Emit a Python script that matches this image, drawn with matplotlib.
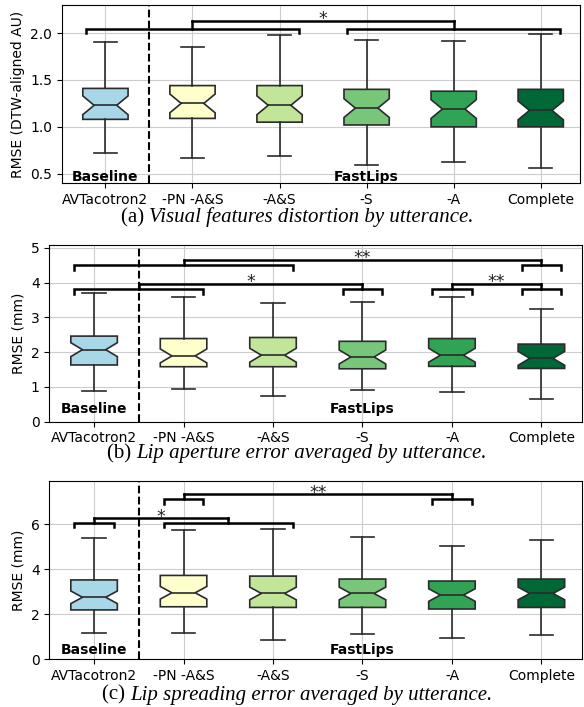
import matplotlib
matplotlib.use("Agg")
import matplotlib.pyplot as plt

# ---------------- data ----------------
categories = ["AVTacotron2", "-PN -A&S", "-A&S", "-S", "-A", "Complete"]
colors = ["#a8d8e8", "#ffffcc", "#c2e699", "#78c679", "#31a354", "#006837"]

# (a) visual features distortion: whislo, q1, med, q3, whishi
a_low = [0.72, 0.67, 0.69, 0.59, 0.62, 0.56]
a_q1 = [1.08, 1.09, 1.05, 1.02, 1.00, 1.00]
a_med = [1.23, 1.25, 1.23, 1.20, 1.19, 1.175]
a_q3 = [1.41, 1.44, 1.44, 1.40, 1.38, 1.40]
a_high = [1.91, 1.85, 1.98, 1.93, 1.92, 1.99]
a_notch = 0.10

# (b) lip aperture error
b_low = [0.87, 0.94, 0.74, 0.90, 0.84, 0.64]
b_q1 = [1.63, 1.58, 1.58, 1.52, 1.59, 1.53]
b_med = [2.07, 1.89, 1.91, 1.86, 1.91, 1.82]
b_q3 = [2.46, 2.39, 2.42, 2.31, 2.39, 2.23]
b_high = [3.70, 3.57, 3.41, 3.43, 3.57, 3.25]
b_notch = 0.20

# (c) lip spreading error
c_low = [1.15, 1.15, 0.84, 1.11, 0.93, 1.06]
c_q1 = [2.19, 2.33, 2.30, 2.30, 2.23, 2.30]
c_med = [2.75, 2.95, 2.92, 2.92, 2.85, 2.92]
c_q3 = [3.52, 3.72, 3.69, 3.56, 3.47, 3.56]
c_high = [5.36, 5.72, 5.76, 5.41, 5.01, 5.27]
c_notch = 0.28

# significance comparisons: (group1, group2, label, bracket height, line height)
a_sig = [([0, 1, 2], [3, 4, 5], "*", 2.04, 2.13)]
b_sig = [([0, 1, 2], [5], "**", 4.51, 4.66),
         ([0, 1], [3], "*", 3.80, 3.97),
         ([4], [5], "**", 3.80, 3.97)]
c_sig = [([0], [1, 2], "*", 6.06, 6.25),
         ([1], [4], "**", 7.10, 7.33)]

captions = [("(a) ", "Visual features distortion by utterance."),
            ("(b) ", "Lip aperture error averaged by utterance."),
            ("(c) ", "Lip spreading error averaged by utterance.")]

# ---------------- figure ----------------
fig = plt.figure(figsize=(5.84, 7.07), dpi=100)
ax_rects = [[0.106, 0.741, 0.887, 0.252],
            [0.0845, 0.4036, 0.9115, 0.2494],
            [0.0845, 0.0675, 0.9115, 0.2525]]
ylims = [(0.40, 2.30), (0, 5.07), (0, 7.92)]
yticks = [[0.5, 1.0, 1.5, 2.0], [0, 1, 2, 3, 4, 5], [0, 2, 4, 6]]
ylabels = ["RMSE (DTW-aligned AU)", "RMSE (mm)", "RMSE (mm)"]
panels = [(a_low, a_q1, a_med, a_q3, a_high, a_notch, a_sig),
          (b_low, b_q1, b_med, b_q3, b_high, b_notch, b_sig),
          (c_low, c_q1, c_med, c_q3, c_high, c_notch, c_sig)]
label_y = [0.46, 0.35, 0.42]
tickdepth = [0.035, 0.14, 0.20]
cap_y = [0.686, 0.352, 0.010]

edge = "#2b2b2b"
for k, (rect, pan) in enumerate(zip(ax_rects, panels)):
    lo, q1, med, q3, hi, notch, sig = pan
    ax = fig.add_axes(rect)
    stats = []
    for i in range(len(categories)):
        stats.append(dict(whislo=lo[i], q1=q1[i], med=med[i], q3=q3[i],
                          whishi=hi[i], cilo=med[i] - notch, cihi=med[i] + notch,
                          fliers=[], label=categories[i]))
    bp = ax.bxp(stats, positions=range(len(categories)), widths=0.52,
                shownotches=True, patch_artist=True, showfliers=False,
                boxprops=dict(edgecolor=edge, linewidth=1.2),
                whiskerprops=dict(color=edge, linewidth=1.2),
                capprops=dict(color=edge, linewidth=1.2),
                medianprops=dict(color=edge, linewidth=1.2))
    for patch, col in zip(bp["boxes"], colors):
        patch.set_facecolor(col)
    ax.set_xlim(-0.5, 5.45)
    ax.set_ylim(*ylims[k])
    ax.set_yticks(yticks[k])
    ax.set_xticks(range(len(categories)))
    ax.set_xticklabels(categories, fontsize=10)
    ax.tick_params(axis="y", labelsize=10)
    ax.set_ylabel(ylabels[k], fontsize=10)
    ax.grid(True, color="#cccccc", linewidth=0.8)
    ax.set_axisbelow(True)
    ax.axvline(0.5, color="black", linestyle="--", linewidth=1.5)
    ax.text(0, label_y[k], "Baseline", ha="center", va="center",
            fontsize=10, fontweight="bold")
    ax.text(3, label_y[k], "FastLips", ha="center", va="center",
            fontsize=10, fontweight="bold")
    td = tickdepth[k]
    for g1, g2, lab, h1, h2 in sig:
        centers = []
        for g in (g1, g2):
            x0, x1 = min(g) - 0.22, max(g) + 0.22
            ax.plot([x0, x0, x1, x1], [h1 - td, h1, h1, h1 - td],
                    color="black", linewidth=1.8, clip_on=False,
                    solid_joinstyle="miter")
            c = (min(g) + max(g)) / 2
            centers.append(c)
            ax.plot([c, c], [h1, h2], color="black", linewidth=1.8, clip_on=False)
        ax.plot(centers, [h2, h2], color="black", linewidth=1.8, clip_on=False)
        ax.annotate(lab, xy=(sum(centers) / 2, h2), xytext=(0, -2.5),
                    textcoords="offset points", ha="center", va="baseline",
                    fontsize=12.5, color="#222222")

# captions: roman prefix + italic rest, centred together
fig.canvas.draw()
rend = fig.canvas.get_renderer()
W = fig.bbox.width
for k in range(3):
    pre, rest = captions[k]
    t_pre = fig.text(0, cap_y[k], pre, family="Liberation Serif", fontsize=15)
    t_rest = fig.text(0, cap_y[k], rest, family="Liberation Serif",
                      fontsize=15, style="italic")
    w1 = t_pre.get_window_extent(rend).width
    w2 = t_rest.get_window_extent(rend).width
    x0 = 0.509 * W - (w1 + w2) / 2
    t_pre.set_x(x0 / W)
    t_rest.set_x((x0 + w1) / W)

fig.savefig("out.png", dpi=100)
